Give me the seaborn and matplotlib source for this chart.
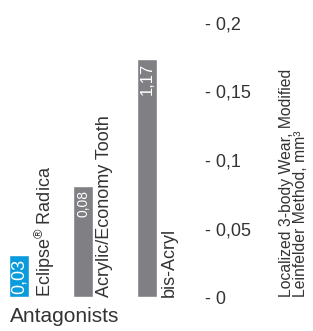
import matplotlib
matplotlib.use("Agg")
import matplotlib.pyplot as plt
import seaborn as sns

# data
categories = [r"Eclipse$^{\circledR}$ Radica", "Acrylic/Economy Tooth", "bis-Acryl"]
wear = [0.031, 0.081, 0.174]
value_labels = ["0,03", "0,08", "1,17"]
value_sizes = [13, 10, 12]
bar_colors = ["#0a9bdc", "#7f7f84", "#7f7f84"]
yticks = [0, 0.05, 0.1, 0.15, 0.2]
ytick_labels = ["- 0", "- 0,05", "- 0,1", "- 0,15", "- 0,2"]

sns.set_style("white")
plt.rcParams["font.family"] = ["Liberation Sans", "DejaVu Sans"]
plt.rcParams["mathtext.fontset"] = "custom"
plt.rcParams["mathtext.rm"] = "Liberation Sans"
plt.rcParams["mathtext.it"] = "Liberation Sans"
text_color = "#333333"

W, H = 313, 331
fig = plt.figure(figsize=(W / 100, H / 100), dpi=100)
ax = fig.add_axes([0, (H - 297) / H, 200 / W, (297 - 23) / H])

bar_width = 20 / 64
sns.barplot(x=categories, y=wear, hue=categories, palette=bar_colors,
            width=bar_width, saturation=1, legend=False, ax=ax)

ax.set_xlim(-19 / 64, (200 - 19) / 64)
ax.set_ylim(0, 0.2)
ax.set_xticks([])
ax.set_xlabel("")
for s in ax.spines.values():
    s.set_visible(False)
ax.grid(False)

ax.yaxis.tick_right()
ax.set_yticks(yticks)
ax.set_yticklabels(ytick_labels)
ax.tick_params(axis="y", length=0, pad=3.6, labelsize=13, labelcolor=text_color)

# category labels beside each bar
for i, cat in enumerate(categories):
    ax.annotate(cat, xy=(i + bar_width / 2, 0), xytext=(2.5, 0),
                textcoords="offset points", rotation=90, ha="left", va="top",
                rotation_mode="anchor", fontsize=13, color=text_color)

# value labels inside bars
for i, (v, lab) in enumerate(zip(wear, value_labels)):
    ax.annotate(lab, xy=(i, v), xytext=(0, -3), textcoords="offset points",
                rotation=90, ha="right", va="center", rotation_mode="anchor",
                fontsize=value_sizes[i], color="white")

fig.text(279 / W, (H - 297) / H,
         "Localized 3-body Wear, Modified\nLeinfelder Method, mm\u00b3",
         rotation=90, ha="left", va="top", rotation_mode="anchor",
         fontsize=11.3, linespacing=0.9, color=text_color)

fig.text(10 / W, (H - 322) / H, "Antagonists", ha="left", va="baseline",
         fontsize=15, color=text_color)

fig.savefig("out.png", dpi=100)
